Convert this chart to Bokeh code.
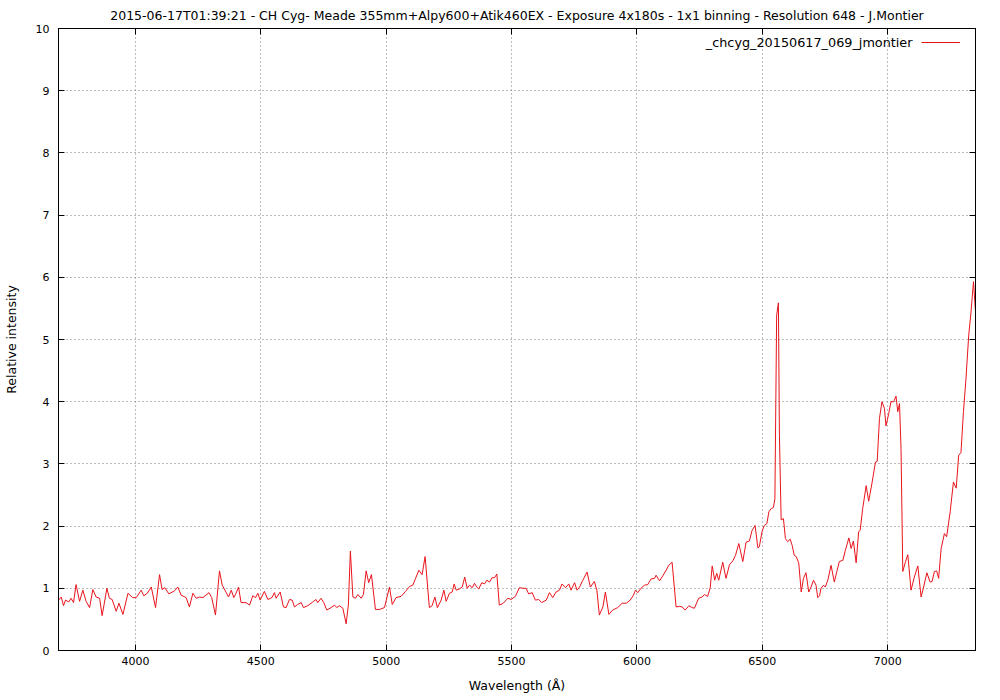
from bokeh.plotting import figure
from bokeh.models import (Range1d, LinearAxis, FixedTicker, Legend, LegendItem, Label,
                          CustomJSTickFormatter)
from bokeh.embed import file_html
from bokeh.resources import INLINE

title_text = ("2015-06-17T01:39:21 - CH Cyg- Meade 355mm+Alpy600+Atik460EX - "
              "Exposure 4x180s - 1x1 binning - Resolution 648 - J.Montier")
series_name = "_chcyg_20150617_069_jmontier"
x_label = "Wavelength (Å)"
y_label = "Relative intensity"
x_ticks = [4000, 4500, 5000, 5500, 6000, 6500, 7000]
y_ticks = [0, 1, 2, 3, 4, 5, 6, 7, 8, 9, 10]
x_limits = (3693, 7350)
y_limits = (0, 10)

wavelength = [
    3693, 3704, 3713, 3721, 3734, 3743, 3753, 3763, 3777, 3790, 3803, 3817, 3830, 3843, 3857, 3867,
    3886, 3896, 3907, 3923, 3934, 3950, 3970, 3989, 4003, 4023, 4033, 4047, 4063, 4080, 4096, 4106,
    4117, 4133, 4156, 4169, 4182, 4202, 4215, 4229, 4242, 4255, 4269, 4293, 4304, 4319, 4335, 4346,
    4362, 4371, 4382, 4392, 4401, 4411, 4421, 4441, 4455, 4468, 4479, 4488, 4497, 4514, 4528, 4544,
    4554, 4561, 4577, 4590, 4601, 4614,
    4625, 4634, 4647, 4661, 4670, 4687, 4707, 4720, 4727, 4740, 4751, 4763, 4780, 4794, 4803, 4813,
    4827, 4840, 4849, 4857, 4867, 4877, 4887, 4900, 4909, 4920, 4930, 4941, 4957, 4973, 4993, 5013,
    5024, 5039, 5059, 5077, 5093, 5106, 5117, 5130, 5143, 5155, 5172, 5183, 5194, 5204, 5219, 5230,
    5239, 5252, 5263, 5271, 5279, 5292, 5303, 5313, 5323, 5332, 5343, 5352, 5361, 5369, 5381, 5392,
    5401, 5412, 5422, 5432, 5441, 5451, 5467, 5485, 5498, 5515, 5531,
    5545, 5558, 5568, 5582, 5595, 5608, 5620, 5638, 5651, 5664, 5677, 5691, 5701, 5715, 5728, 5737,
    5751, 5761, 5771, 5784, 5801, 5814, 5830, 5840, 5850, 5864, 5874, 5888, 5903, 5923, 5941, 5957,
    5973, 5986, 5994, 6003, 6016, 6030, 6043, 6056, 6070, 6076, 6090, 6103, 6116, 6127, 6140, 6156,
    6169, 6180, 6192, 6207, 6220, 6229, 6246, 6260, 6269, 6282, 6292, 6300, 6310, 6318, 6326, 6342,
    6355, 6369, 6382, 6393, 6406, 6422, 6435, 6448,
    6459, 6471, 6482, 6488, 6499, 6508, 6518, 6526, 6535, 6544, 6550, 6557, 6564, 6568, 6575, 6584,
    6592, 6601, 6611, 6619, 6627, 6635, 6645, 6655, 6664, 6674, 6685, 6694, 6704, 6714, 6721, 6728,
    6734, 6744, 6751, 6761, 6774, 6787, 6797, 6807, 6821, 6831, 6845, 6854, 6863, 6874, 6884, 6890,
    6900, 6914, 6924, 6938, 6951, 6958, 6967, 6977, 6987, 6993, 7004, 7013, 7024, 7033, 7040, 7047,
    7053, 7060, 7071, 7080, 7093, 7106, 7120, 7133, 7142, 7156, 7169, 7177, 7186, 7195, 7203, 7213,
    7226, 7235, 7249, 7262, 7273, 7283, 7292, 7302, 7312, 7323, 7332, 7342, 7350,
]

intensity = [
    0.81, 0.86, 0.72, 0.81, 0.78, 0.84, 0.77, 1.06, 0.79, 0.97, 0.79, 0.69, 0.98, 0.86, 0.84, 0.56,
    1.00, 0.84, 0.82, 0.63, 0.76, 0.58, 0.92, 0.85, 0.85, 0.97, 0.88, 0.92, 1.02, 0.69, 1.22, 0.98,
    1.01, 0.91, 0.96, 1.02, 0.89, 0.85, 0.70, 0.92, 0.84, 0.86, 0.85, 0.93, 0.85, 0.57, 1.28, 1.05,
    0.93, 0.86, 0.97, 0.85, 0.92, 1.02, 0.77, 0.77, 0.73, 0.88, 0.85, 0.92, 0.81, 0.95, 0.82, 0.85,
    0.93, 0.84, 0.94, 0.70, 0.69, 0.82,
    0.81, 0.70, 0.74, 0.77, 0.69, 0.72, 0.78, 0.82, 0.77, 0.84, 0.77, 0.65, 0.69, 0.73, 0.69, 0.72,
    0.68, 0.43, 0.73, 1.60, 0.86, 0.84, 0.90, 0.84, 0.90, 1.28, 1.09, 1.22, 0.66, 0.66, 0.69, 1.02,
    0.74, 0.85, 0.87, 0.95, 1.03, 1.05, 1.16, 1.29, 1.22, 1.51, 0.69, 0.72, 0.86, 0.69, 0.81, 0.97,
    0.79, 0.92, 0.94, 1.07, 0.97, 0.99, 1.02, 1.18, 1.00, 1.05, 1.01, 1.08, 1.02, 0.99, 1.09, 1.07,
    1.13, 1.10, 1.17, 1.17, 1.23, 0.73, 0.76, 0.84, 0.82, 0.87, 1.01,
    1.00, 1.00, 0.91, 0.93, 0.81, 0.82, 0.77, 0.81, 0.93, 0.85, 0.94, 0.97, 1.07, 1.01, 1.07, 0.97,
    1.09, 0.97, 1.02, 1.13, 1.26, 1.02, 1.11, 0.97, 0.57, 0.70, 0.94, 0.58, 0.65, 0.69, 0.76, 0.76,
    0.81, 0.89, 0.97, 0.93, 1.00, 1.05, 1.06, 1.15, 1.16, 1.21, 1.12, 1.20, 1.29, 1.37, 1.42, 0.70,
    0.71, 0.70, 0.65, 0.72, 0.69, 0.68, 0.84, 0.86, 0.90, 0.87, 1.01, 1.36, 1.13, 1.24, 1.13, 1.42,
    1.16, 1.38, 1.44, 1.53, 1.72, 1.43, 1.74, 1.76,
    1.93, 2.01, 1.65, 1.67, 1.92, 2.01, 2.04, 2.23, 2.28, 2.30, 2.44, 5.39, 5.59, 3.46, 2.10, 2.12,
    1.80, 1.75, 1.79, 1.69, 1.53, 1.51, 1.41, 0.94, 1.16, 1.25, 0.94, 1.02, 1.13, 1.05, 0.85, 0.88,
    1.00, 1.05, 1.02, 1.13, 1.37, 1.10, 1.27, 1.43, 1.45, 1.61, 1.81, 1.64, 1.76, 1.41, 1.91, 1.93,
    2.28, 2.65, 2.40, 2.71, 3.03, 3.04, 3.73, 4.00, 3.89, 3.61, 3.81, 4.00, 4.00, 4.09, 3.84, 3.97,
    3.25, 1.27, 1.43, 1.54, 0.97, 1.18, 1.36, 0.86, 1.00, 1.25, 1.10, 1.11, 1.27, 1.28, 1.16, 1.64,
    1.88, 1.83, 2.23, 2.71, 2.61, 3.14, 3.18, 3.84, 4.37, 5.07, 5.44, 5.93, 5.44,
]

FONT = "DejaVu Sans"
TXT = "#000000"
FRAME_W, FRAME_H = 917, 622

p = figure(frame_width=FRAME_W, frame_height=FRAME_H, output_backend="svg", toolbar_location=None,
           x_range=Range1d(*x_limits), y_range=Range1d(*y_limits),
           min_border_left=51, min_border_right=16, min_border_top=28, min_border_bottom=44,
           x_axis_label=x_label, y_axis_label=y_label)

p.title.text = title_text
p.title.align = "center"
p.title.text_font = FONT
p.title.text_font_size = "12.5px"
p.title.text_font_style = "normal"
p.title.text_color = TXT
p.title.standoff = 11

p.background_fill_color = "white"
p.border_fill_color = "white"
p.outline_line_color = "black"
p.outline_line_width = 1

for ax, ticks in ((p.xaxis[0], x_ticks), (p.yaxis[0], y_ticks)):
    ax.ticker = FixedTicker(ticks=ticks)
    ax.major_tick_in = 6
    ax.major_tick_out = 0
    ax.minor_tick_in = 0
    ax.minor_tick_out = 0
    ax.major_tick_line_color = "black"
    ax.axis_line_color = "black"
    ax.major_label_text_font = FONT
    ax.major_label_text_font_size = "11px"
    ax.major_label_text_color = TXT
    ax.axis_label_text_font = FONT
    ax.axis_label_text_font_size = "12.5px"
    ax.axis_label_text_font_style = "normal"
    ax.axis_label_text_color = TXT

p.xaxis[0].major_label_standoff = 6
p.xaxis[0].axis_label_standoff = 10
p.yaxis[0].major_label_standoff = 9
p.yaxis[0].axis_label_standoff = 14

# mirror ticks on top and right (gnuplot style), without labels
blank = CustomJSTickFormatter(code="return ''")
for loc, ticks in (("above", x_ticks), ("right", y_ticks)):
    ax = LinearAxis(ticker=FixedTicker(ticks=ticks), formatter=blank,
                    major_tick_in=6, major_tick_out=0, minor_tick_in=0, minor_tick_out=0,
                    major_label_standoff=0, major_label_text_font_size="1px",
                    axis_line_color="black", major_tick_line_color="black")
    p.add_layout(ax, loc)

for g, ticks in ((p.xgrid[0], x_ticks), (p.ygrid[0], y_ticks)):
    g.ticker = FixedTicker(ticks=ticks)
    g.grid_line_color = "#7a7a7a"
    g.grid_line_dash = "1 3"
    g.grid_line_width = 1

r = p.line(wavelength, intensity, line_color="#e8141c", line_width=1)

# gnuplot-style key: text right-aligned, line sample to its right
p.add_layout(Label(x=854, y=FRAME_H - 14, x_units="screen", y_units="screen",
                   text=series_name, text_align="right", text_baseline="middle",
                   text_font=FONT, text_font_size="12.8px", text_color=TXT))
leg = Legend(items=[LegendItem(label=" ", renderers=[r])], location=(863, FRAME_H - 19),
             glyph_width=39, glyph_height=10, label_height=10, label_width=1,
             label_text_font_size="1px", padding=0, margin=0, spacing=0,
             border_line_color=None, background_fill_alpha=0)
p.add_layout(leg)

open("out.html", "w").write(file_html(p, INLINE))
